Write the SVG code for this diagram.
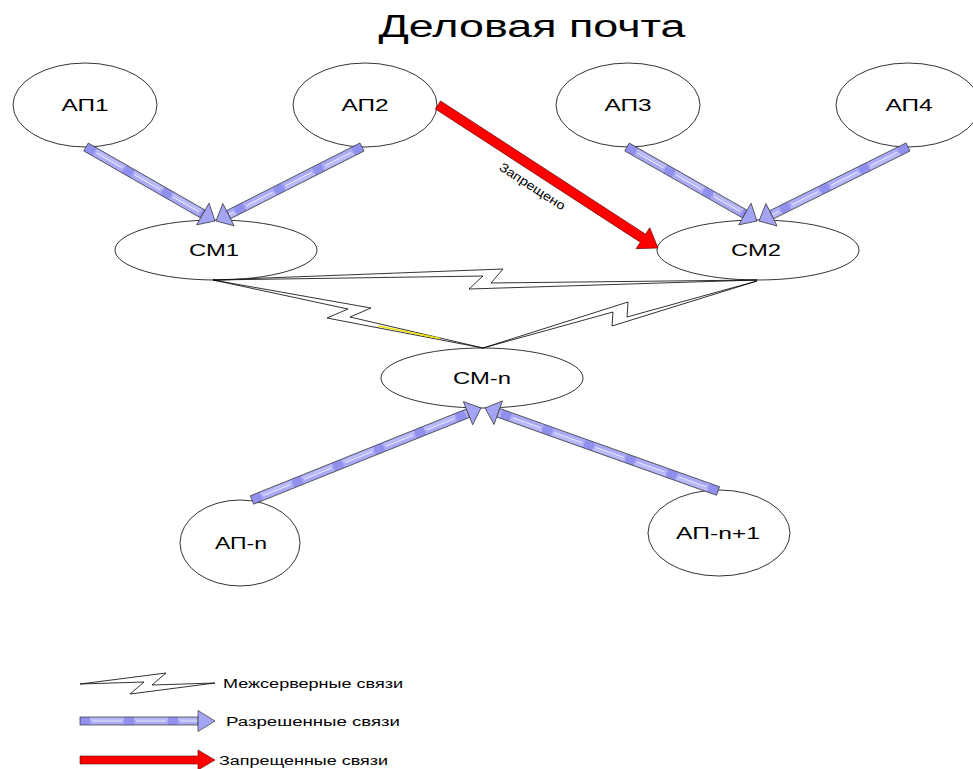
<svg xmlns="http://www.w3.org/2000/svg" width="973" height="769" viewBox="0 0 973 769">
<style>
text{font-family:"Liberation Sans",Arial,sans-serif;fill:#000}
.lbl{font-size:16px;text-anchor:middle}
.leg{font-size:12px}
.node{fill:#fff;stroke:#000;stroke-width:0.8}
.zap{fill:#fff;stroke:#000;stroke-width:0.8;stroke-linejoin:miter}
.shaft{fill:url(#bp);stroke:#333;stroke-width:0.7}
.head{fill:#A4A4F4;stroke:#333;stroke-width:0.7;stroke-linejoin:miter}
.red{fill:#FF0000;stroke:#5a0000;stroke-width:0.6}
</style>
<defs>
<pattern id="bp" patternUnits="userSpaceOnUse" x="0" y="-4.5" width="44" height="9">
<rect x="0" y="0" width="44" height="9" fill="#A9A9F6"/>
<rect x="0" y="0" width="10" height="9" fill="#9090EE"/>
<rect x="10" y="1.5" width="34" height="1.3" fill="#C6C6FA"/>
<rect x="12" y="3.9" width="30" height="1.2" fill="#FFFFFF" opacity="0.75"/>
</pattern>
</defs>
<rect x="0" y="0" width="973" height="769" fill="#fff"/>
<text x="532" y="37" font-size="31" text-anchor="middle" textLength="307" lengthAdjust="spacingAndGlyphs">Деловая почта</text>
<g id="nodes">
<g id="ap1"><ellipse class="node" cx="85" cy="105" rx="72" ry="42"/><text class="lbl" x="85" y="111" textLength="47" lengthAdjust="spacingAndGlyphs">АП1</text></g>
<g id="ap2"><ellipse class="node" cx="365" cy="105" rx="72" ry="42"/><text class="lbl" x="365" y="111" textLength="47" lengthAdjust="spacingAndGlyphs">АП2</text></g>
<g id="ap3"><ellipse class="node" cx="628" cy="105" rx="72" ry="42"/><text class="lbl" x="628" y="111" textLength="47" lengthAdjust="spacingAndGlyphs">АП3</text></g>
<g id="ap4"><ellipse class="node" cx="908" cy="105" rx="72" ry="42"/><text class="lbl" x="909" y="111" textLength="47" lengthAdjust="spacingAndGlyphs">АП4</text></g>
<g id="cm1"><ellipse class="node" cx="216" cy="250" rx="101" ry="30"/><text class="lbl" x="214" y="256" textLength="50" lengthAdjust="spacingAndGlyphs">СМ1</text></g>
<g id="cm2"><ellipse class="node" cx="758" cy="250" rx="101" ry="30"/><text class="lbl" x="756" y="256" textLength="50" lengthAdjust="spacingAndGlyphs">СМ2</text></g>
<g id="cmn"><ellipse class="node" cx="482" cy="378" rx="101" ry="30"/><text class="lbl" x="482" y="384" textLength="58" lengthAdjust="spacingAndGlyphs">СМ-n</text></g>
<g id="apn"><ellipse class="node" cx="240" cy="543" rx="60" ry="43"/><text class="lbl" x="241" y="549" textLength="52" lengthAdjust="spacingAndGlyphs">АП-n</text></g>
<g id="apn1"><ellipse class="node" cx="719" cy="533" rx="71" ry="43"/><text class="lbl" x="718" y="539" textLength="84" lengthAdjust="spacingAndGlyphs">АП-n+1</text></g>
</g>
<g id="connectors">
<polygon class="zap" points="213,280 503,269 491,283 757,280 469,289 483,276"/>
<polygon class="zap" points="213,280 371,308 350,317 483,348 327,318 348,309"/>
<line x1="378" y1="326" x2="440" y2="338.5" stroke="#F2E200" stroke-width="1.3"/>
<polygon class="zap" points="483,348 628,302 627,317 757,281 612,326 613,312"/>
<g transform="translate(86,147) rotate(29.84)"><rect class="shaft" x="0" y="-4.5" width="134.7" height="9"/><polygon class="head" points="134.7,-12.5 148.7,0 134.7,12.5"/></g>
<g transform="translate(362,147) rotate(153.12)"><rect class="shaft" x="0" y="-4.5" width="149.7" height="9"/><polygon class="head" points="149.7,-12.5 163.7,0 149.7,12.5"/></g>
<g transform="translate(627,147) rotate(29.65)"><rect class="shaft" x="0" y="-4.5" width="135.6" height="9"/><polygon class="head" points="135.6,-12.5 149.6,0 135.6,12.5"/></g>
<g transform="translate(908,147) rotate(153.59)"><rect class="shaft" x="0" y="-4.5" width="152.4" height="9"/><polygon class="head" points="152.4,-12.5 166.4,0 152.4,12.5"/></g>
<g transform="translate(252,500) rotate(-21.89)"><rect class="shaft" x="0" y="-4.5" width="232.8" height="9"/><polygon class="head" points="232.8,-12.5 246.8,0 232.8,12.5"/></g>
<g transform="translate(718,491) rotate(-160.39)"><rect class="shaft" x="0" y="-4.5" width="233.3" height="9"/><polygon class="head" points="233.3,-12.5 247.3,0 233.3,12.5"/></g>
<g transform="translate(438,105) rotate(33.02)"><polygon class="red" points="0,-4.8 244.4,-4.8 244.4,-12.5 262.4,0 244.4,12.5 244.4,4.8 0,4.8"/></g>
<text font-size="12.5" text-anchor="middle" textLength="76" lengthAdjust="spacingAndGlyphs" transform="translate(530,190) rotate(33.02)">Запрещено</text>
</g>
<g id="legend">
<polygon class="zap" points="80,684 166,673 152,685 215,683 130,694 144,682"/>
<text class="leg" x="223" y="688" textLength="180" lengthAdjust="spacingAndGlyphs">Межсерверные связи</text>
<g transform="translate(80,721)"><rect class="shaft" x="0" y="-4" width="118" height="8"/><polygon class="head" points="118,-10.5 135,0 118,10.5"/></g>
<text class="leg" x="226" y="726" textLength="174" lengthAdjust="spacingAndGlyphs">Разрешенные связи</text>
<polygon class="red" points="80,756 198,756 198,750 215,760 198,770 198,764 80,764"/>
<text class="leg" x="219" y="765" textLength="169" lengthAdjust="spacingAndGlyphs">Запрещенные связи</text>
</g>
</svg>
